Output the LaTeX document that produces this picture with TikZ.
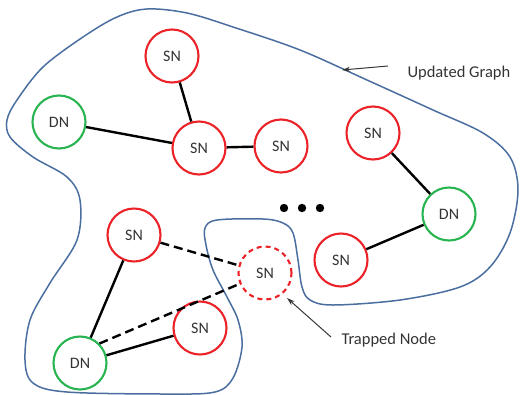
\documentclass[tikz,border=0pt]{standalone}
\usepackage{fontspec}
\setmainfont{Carlito}
\usetikzlibrary{arrows.meta}
\definecolor{snred}{RGB}{235,35,40}
\definecolor{dngreen}{RGB}{40,180,80}
\definecolor{hullblue}{RGB}{75,110,160}
\definecolor{notegray}{RGB}{55,55,55}
\tikzset{
  sn/.style={circle,draw=snred,line width=2.1pt,minimum size=53pt,inner sep=0pt,font=\fontsize{16}{18}\selectfont,text=black!80},
  dn/.style={sn,draw=dngreen},
  trapped/.style={sn,dash pattern=on 5pt off 4pt},
  link/.style={line width=2.4pt,black},
  dlink/.style={link,dash pattern=on 9pt off 5pt},
  hull/.style={draw=hullblue,line width=1.5pt},
  note/.style={font=\fontsize{16.5}{18}\selectfont,text=black!80,anchor=west},
  pointer/.style={notegray,line width=1pt,-{Stealth[length=8pt,width=5pt]}}
}
\begin{document}
\begin{tikzpicture}[x=1pt,y=-1pt]
\useasboundingbox (0,0) rectangle (521,394);

% boundary of the updated graph
\draw[hull] plot[smooth cycle,tension=0.55] coordinates {
  (147,9) (187,13) (233,27) (300,50) (367,80) (433,110) (483,133)
  (510,157) (518,190) (510,233) (490,267) (460,287) (400,300)
  (333,305) (310,300) (302,287) (298,260) (293,233) (283,223)
  (263,219) (217,220) (205,228) (206,245) (213,270) (227,297)
  (238,320) (242,347) (233,378) (215,392) (167,394) (67,392)
  (33,383) (25,360) (30,320) (50,283) (77,240) (80,200) (67,177)
  (33,157) (10,137) (7,120) (17,100) (43,67) (83,37) (117,17)
};

% nodes
\node[sn] (snTop)    at (172,56)  {SN};
\node[dn] (dnLeft)   at (59,122)  {DN};
\node[sn] (snHub)    at (199,148) {SN};
\node[sn] (snMid)    at (281,146) {SN};
\node[sn] (snRight)  at (373,133) {SN};
\node[dn] (dnRight)  at (449,214) {DN};
\node[sn] (snLowR)   at (341,260) {SN};
\node[sn] (snLowL)   at (134,235) {SN};
\node[trapped] (snTrap) at (265,273) {SN};
\node[sn] (snBot)    at (200,328) {SN};
\node[dn] (dnBot)    at (80,363)  {DN};

% solid links
\draw[link] (snTop) -- (snHub);
\draw[link] (dnLeft) -- (snHub);
\draw[link] (snHub) -- (snMid);
\draw[link] (snRight) -- (dnRight);
\draw[link] (dnRight) -- (snLowR);
\draw[link] (snLowL) -- (dnBot);
\draw[link] (dnBot) -- (snBot);

% links to the trapped node
\draw[dlink] (snLowL) -- (snTrap);
\draw[dlink] (dnBot.north east) -- (snTrap);

% ellipsis
\foreach \cx [count=\i] in {284,302,320}
  \fill (\cx,208) circle (4.2pt) coordinate (dot\i);

% annotations
\node[note] (lblGraph) at (404,73) {Updated Graph};
\coordinate (graphTip) at (342,70);
\draw[pointer] (lblGraph.west) ++(-16,-7) coordinate (graphTail) -- (graphTip);

\node[note] (lblTrap) at (338,340) {Trapped Node};
\coordinate (trapTip) at (287,298);
\draw[pointer] (lblTrap.west) ++(-7,-3) coordinate (trapTail) -- (trapTip);
\end{tikzpicture}
\end{document}
